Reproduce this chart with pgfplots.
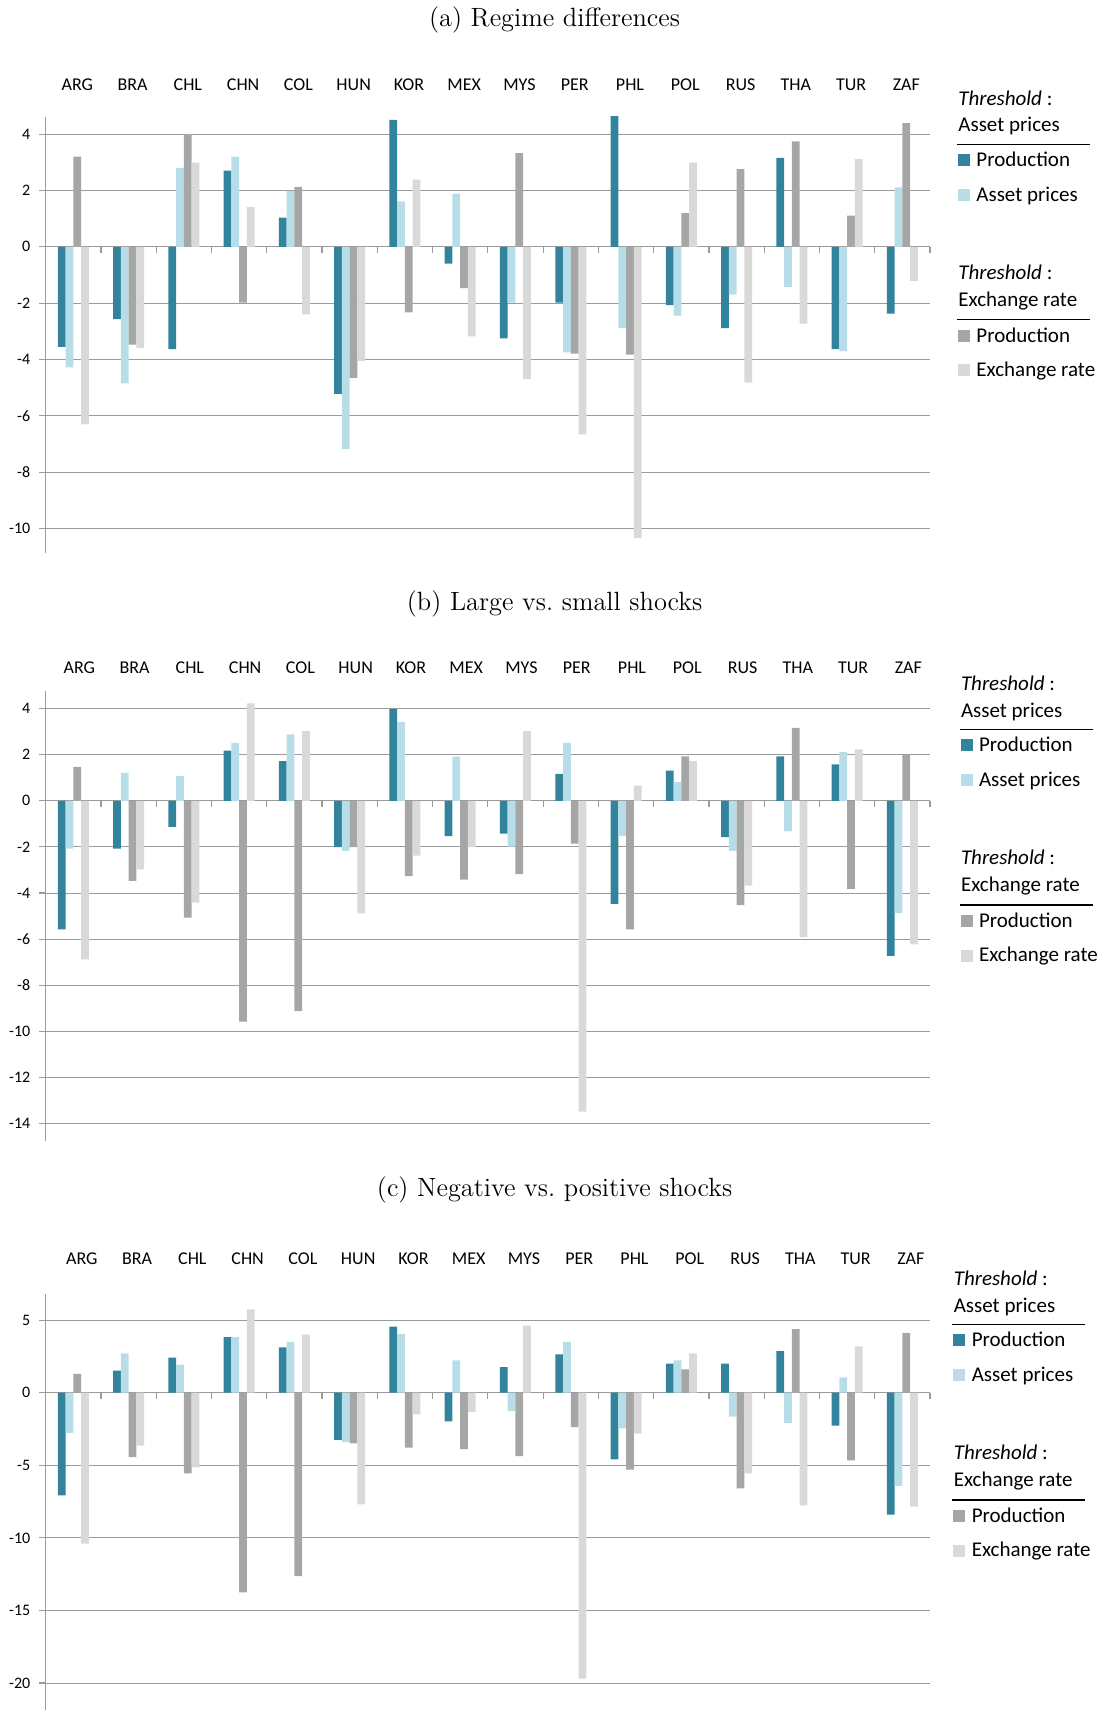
\documentclass[border=0pt]{standalone}
\usepackage{fontspec}
\usepackage{pgfplots}
\pgfplotsset{compat=1.18}
\usepackage{pgfplotstable}
\newfontfamily\calib{Carlito}

\definecolor{cTeal}{RGB}{49,132,155}
\definecolor{cLight}{RGB}{183,222,232}
\definecolor{cGray}{RGB}{166,166,166}
\definecolor{cLGray}{RGB}{217,217,217}
\definecolor{gridgray}{RGB}{155,155,155}

% columns: threshold asset prices (production, asset prices),
%          threshold exchange rate (production, exchange rate)
\pgfplotstableread{
idx ap ppa xp pxe
0  -3.55 -4.28  3.20  -6.30
1  -2.57 -4.85 -3.47  -3.60
2  -3.63  2.80  4.00   2.99
3   2.71  3.20 -1.98   1.41
4   1.04  1.99  2.13  -2.40
5  -5.22 -7.18 -4.65  -4.05
6   4.51  1.61 -2.33   2.39
7  -0.60  1.89 -1.47  -3.18
8  -3.25 -1.98  3.33  -4.70
9  -1.98 -3.75 -3.79  -6.66
10  4.67 -2.89 -3.83 -10.34
11 -2.07 -2.44  1.20   2.99
12 -2.89 -1.70  2.76  -4.82
13  3.16 -1.42  3.74  -2.73
14 -3.63 -3.70  1.11   3.11
15 -2.37  2.11  4.39  -1.21
}\tabA

\pgfplotstableread{
idx ap ppa xp pxe
0  -5.58 -2.07  1.47  -6.88
1  -2.08  1.21 -3.47  -2.98
2  -1.13  1.07 -5.07  -4.42
3   2.17  2.51 -9.58   4.22
4   1.72  2.88 -9.12   3.02
5  -2.01 -2.17 -2.01  -4.88
6   3.97  3.41 -3.27  -2.38
7  -1.53  1.91 -3.42  -2.01
8  -1.42 -1.99 -3.18   3.02
9   1.17  2.51 -1.86 -13.48
10 -4.47 -1.53 -5.58   0.66
11  1.31  0.81  1.92   1.72
12 -1.58 -2.17 -4.52  -3.68
13  1.92 -1.33  3.16  -5.91
14  1.58  2.11 -3.82   2.23
15 -6.72 -4.87  2.01  -6.23
}\tabB

\pgfplotstableread{
idx ap ppa xp pxe
0  -7.07 -2.76  1.29 -10.40
1   1.52  2.71 -4.43  -3.65
2   2.41  1.93 -5.56  -5.14
3   3.83  3.83 -13.75  5.74
4   3.12  3.51 -12.63  4.00
5  -3.24 -3.40 -3.49  -7.69
6   4.55  4.06 -3.79  -1.49
7  -1.97  2.23 -3.88  -1.33
8   1.77 -1.26 -4.36   4.62
9   2.64  3.51 -2.37 -19.70
10 -4.59 -2.46 -5.30  -2.82
11  2.00  2.23  1.61   2.71
12  2.00 -1.65 -6.59  -5.56
13  2.87 -2.07  4.39  -7.76
14 -2.27  1.06 -4.66   3.19
15 -8.40 -6.41  4.13  -7.85
}\tabC

\pgfplotsset{
  panel/.style={
    scale only axis, width=442.15pt,
    xmin=-0.5, xmax=15.5,
    axis y line*=left, axis x line*=middle,
    ybar=0pt, bar width=3.875pt,
    xtick={0.5,1.5,...,15.5}, xticklabels={},
    ymajorgrids, grid style={draw=gridgray, line width=0.5pt},
    axis line style={draw=gridgray, line width=0.6pt},
    tick style={draw=gridgray, line width=0.6pt},
    major tick length=3.2pt,
    ytick align=outside,
    xtick align=center, x tick style={yshift=-1.6pt},
    yticklabel style={font=\calib\fontsize{8}{9}\selectfont, xshift=-1pt},
  },
  every axis plot/.append style={draw=none},
}

\tikzset{
  cat/.style={font=\calib\fontsize{9}{10}\selectfont, inner sep=0pt,
    text height=0.64em, text depth=0pt, anchor=center},
  leg/.style={font=\calib\fontsize{10.5}{12}\selectfont, inner sep=0pt,
    text height=0.64em, text depth=0pt, anchor=west},
  ttl/.style={font=\fontsize{13.2}{15}\selectfont, inner sep=0pt, anchor=center},
}

% legend block: #1 = left x, #2 = y of first heading line (both in pt)
\newcommand\legendblock[2]{%
  \node[leg] at (#1pt,#2pt) {\textit{Threshold} :};
  \node[leg] at (#1pt,{#2pt-13.2pt}) {Asset prices};
  \draw[line width=0.6pt] ({#1pt-0.5pt},{#2pt-22.6pt}) -- ({#1pt+66pt},{#2pt-22.6pt});
  \fill[cTeal] (#1pt,{#2pt-30.45pt-3pt}) rectangle ++(6pt,6pt);
  \node[leg] at ({#1pt+9pt},{#2pt-30.45pt}) {Production};
  \fill[cLight] (#1pt,{#2pt-47.9pt-3pt}) rectangle ++(6pt,6pt);
  \node[leg] at ({#1pt+9pt},{#2pt-47.9pt}) {Asset prices};
  \node[leg] at (#1pt,{#2pt-87.1pt}) {\textit{Threshold} :};
  \node[leg] at (#1pt,{#2pt-100.35pt}) {Exchange rate};
  \draw[line width=0.6pt] ({#1pt-0.5pt},{#2pt-110.35pt}) -- ({#1pt+66pt},{#2pt-110.35pt});
  \fill[cGray] (#1pt,{#2pt-118.3pt-3pt}) rectangle ++(6pt,6pt);
  \node[leg] at ({#1pt+9pt},{#2pt-118.3pt}) {Production};
  \fill[cLGray] (#1pt,{#2pt-135.6pt-3pt}) rectangle ++(6pt,6pt);
  \node[leg] at ({#1pt+9pt},{#2pt-135.6pt}) {Exchange rate};
}

% country codes above each panel: #1 = y, #2 = horizontal shift (pt)
\newcommand\countries[2]{%
  \foreach \c [count=\i from 0] in {ARG,BRA,CHL,CHN,COL,HUN,KOR,MEX,MYS,PER,PHL,POL,RUS,THA,TUR,ZAF}
    \node[cat] at ({22.85pt+(\i+0.5)*27.634pt+#2pt},#1pt) {\c};
}

\begin{document}
\begin{tikzpicture}
\useasboundingbox (0,0) rectangle (553pt,-855pt);

% (a)
\node[ttl] at (277.3pt,-9.9pt) {(a) Regime differences};
\countries{-42}{2}
\begin{axis}[panel, at={(22.85pt,-58.35pt)}, anchor=north west,
  height=218pt, ymin=-10.86, ymax=4.62,
  ytick={-10,-8,...,4}, yticklabels={-10,-8,-6,-4,-2,0,2,4}]
  \addplot[fill=cTeal]  table[x=idx,y=ap]  {\tabA};
  \addplot[fill=cLight] table[x=idx,y=ppa] {\tabA};
  \addplot[fill=cGray]  table[x=idx,y=xp]  {\tabA};
  \addplot[fill=cLGray] table[x=idx,y=pxe] {\tabA};
\end{axis}
\legendblock{479}{-49.5}

% (b)
\node[ttl] at (277.3pt,-302.1pt) {(b) Large vs.\ small shocks};
\countries{-333.35}{3}
\begin{axis}[panel, at={(22.85pt,-345.35pt)}, anchor=north west,
  height=225.15pt, ymin=-14.75, ymax=4.77,
  ytick={-14,-12,...,4}, yticklabels={-14,-12,-10,-8,-6,-4,-2,0,2,4}]
  \addplot[fill=cTeal]  table[x=idx,y=ap]  {\tabB};
  \addplot[fill=cLight] table[x=idx,y=ppa] {\tabB};
  \addplot[fill=cGray]  table[x=idx,y=xp]  {\tabB};
  \addplot[fill=cLGray] table[x=idx,y=pxe] {\tabB};
\end{axis}
\legendblock{480.3}{-342.15}

% (c)
\node[ttl] at (277.3pt,-595.1pt) {(c) Negative vs.\ positive shocks};
\countries{-628.85}{4.25}
\begin{axis}[panel, at={(22.85pt,-647pt)}, anchor=north west,
  height=208pt, ymin=-21.86, ymax=6.8,
  ytick={-20,-15,...,5}, yticklabels={-20,-15,-10,-5,0,5}]
  \addplot[fill=cTeal]  table[x=idx,y=ap]  {\tabC};
  \addplot[fill=cLight] table[x=idx,y=ppa] {\tabC};
  \addplot[fill=cGray]  table[x=idx,y=xp]  {\tabC};
  \addplot[fill=cLGray] table[x=idx,y=pxe] {\tabC};
\end{axis}
\legendblock{476.7}{-639.65}
\end{tikzpicture}
\end{document}
